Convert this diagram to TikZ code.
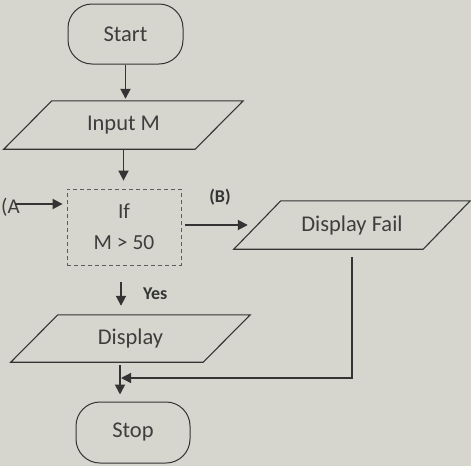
\documentclass[tikz,border=0pt]{standalone}
\usepackage{fontspec}
\setmainfont{Carlito}
\usetikzlibrary{arrows.meta,calc}
\definecolor{paper}{RGB}{214,214,206}
\definecolor{ink}{RGB}{52,52,52}
\definecolor{txt}{RGB}{62,62,62}
\tikzset{
  term/.style={draw=ink,line width=1pt,rectangle,rounded corners=24pt,minimum width=115pt,minimum height=60pt,text=txt,font=\fontsize{22.5}{26}\selectfont},
  iobox/.style={rectangle,text=txt,font=\fontsize{22.5}{26}\selectfont},
  decbox/.style={draw=ink!80,line width=0.8pt,dash pattern=on 4pt off 3pt,rectangle,minimum width=114pt,minimum height=76pt,align=center,text=txt,font=\fontsize{21.5}{31}\selectfont},
  para/.style={draw=ink,line width=1.1pt},
  arr/.style={draw=ink,line width=1.8pt,-{Triangle[length=10pt,width=10pt]}},
  lbl/.style={text=ink,font=\bfseries\fontsize{18}{21}\selectfont},
}
\begin{document}
\begin{tikzpicture}[x=1pt,y=-1pt]
\fill[paper] (0,0) rectangle (471,466);
\useasboundingbox (0,0) rectangle (471,466);

\node[term] (start) at (125.5,34) {Start};
\node[iobox,minimum width=239pt,minimum height=48pt] (input) at (123.5,125) {Input M};
\draw[para] ($(input.north west)+(48,0)$) -- (input.north east) -- ($(input.south east)-(48,0)$) -- (input.south west) -- cycle;
\node[decbox] (if) at (124,227) {If\\M > 50};
\node[iobox,minimum width=236pt,minimum height=48pt] (fail) at (352,225) {Display Fail};
\draw[para] ($(fail.north west)+(47,0)$) -- (fail.north east) -- ($(fail.south east)-(47,0)$) -- (fail.south west) -- cycle;
\node[iobox,minimum width=239pt,minimum height=47pt] (display) at (130.5,338.5) {Display};
\draw[para] ($(display.north west)+(47,0)$) -- (display.north east) -- ($(display.south east)-(47,0)$) -- (display.south west) -- cycle;
\node[term,minimum width=114pt,minimum height=61pt] (stop) at (133,432.5) {Stop};

\node[text=txt,font=\fontsize{21}{24}\selectfont,anchor=west,inner sep=0pt] (alabel) at (1,207) {(A};
\coordinate (a) at (15,204);
\node[lbl] (blabel) at (220,197) {(B)};
\node[lbl,anchor=west,inner sep=0pt] (yes) at (143,294) {Yes};
\coordinate (join) at (121,378);

\draw[arr,shorten >=2pt] (start.south) -- (start.south |- input.north);
\draw[arr,shorten <=1pt,shorten >=8pt] (input.south) -- (input.south |- if.north);
\draw[arr,shorten >=4pt] (a) -- (if.west |- a);
\draw[arr] ([xshift=4pt]if.east |- fail.west) -- ([xshift=14pt]fail.west);
\draw[arr,shorten <=17pt,shorten >=9pt] ([xshift=-3pt]if.south) -- ([xshift=-3pt]if.south |- display.north);
\draw[arr,shorten <=3pt,shorten >=7pt] ([xshift=-10.5pt]display.south) -- ([xshift=-10.5pt]display.south |- stop.north);
\draw[arr,line width=1.4pt,shorten <=8pt] (fail.south) -- (fail.south |- join) -- (join);
\end{tikzpicture}
\end{document}
